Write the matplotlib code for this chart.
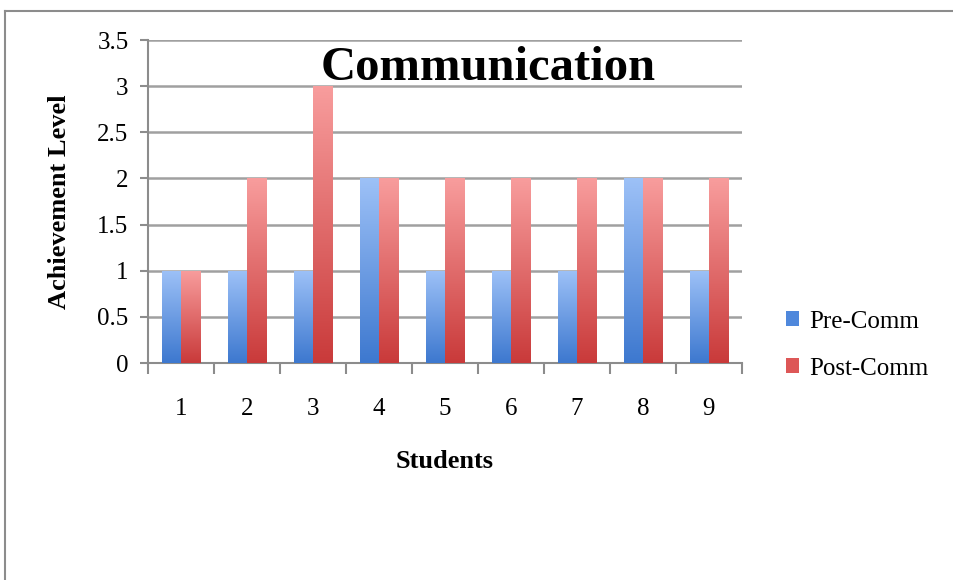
import numpy as np
import matplotlib.pyplot as plt
from matplotlib.lines import Line2D
from matplotlib.colors import LinearSegmentedColormap
from matplotlib.patches import Patch

students = ["1", "2", "3", "4", "5", "6", "7", "8", "9"]
pre_comm = [1, 1, 1, 2, 1, 1, 1, 2, 1]
post_comm = [1, 2, 3, 2, 2, 2, 2, 2, 2]
y_ticks = [0, 0.5, 1, 1.5, 2, 2.5, 3, 3.5]

plt.rcParams['font.family'] = ['Liberation Serif', 'DejaVu Serif']

blue_cmap = LinearSegmentedColormap.from_list("blue", ["#3d78cf", "#9dc1f7"])
red_cmap = LinearSegmentedColormap.from_list("red", ["#c93a3a", "#f89d9d"])


def gradient_fill(ax, bars, cmap):
    # paint each bar with a vertical gradient, clipped to the bar shape
    grad = np.linspace(0, 1, 256).reshape(-1, 1)
    for b in bars:
        x0, y0 = b.get_x(), b.get_y()
        w, h = b.get_width(), b.get_height()
        im = ax.imshow(grad, cmap=cmap, aspect='auto', origin='lower',
                       extent=[x0, x0 + w, y0, y0 + h], zorder=3)
        im.set_clip_path(b)
        b.set_facecolor('none')


fig = plt.figure(figsize=(9.54, 5.8), dpi=100)
ax = fig.add_axes([0.1551, 0.3741, 0.6226, 0.5569])

x = np.arange(len(students))
w = 0.29
bars_pre = ax.bar(x - w / 2, pre_comm, w, color='#6a9be3', zorder=3, linewidth=0)
bars_post = ax.bar(x + w / 2, post_comm, w, color='#e06464', zorder=3, linewidth=0)
gradient_fill(ax, bars_pre, blue_cmap)
gradient_fill(ax, bars_post, red_cmap)

ax.set_xlim(-0.5, len(students) - 0.5)
ax.set_ylim(0, 3.5)
ax.set_yticks(y_ticks)
ax.set_yticklabels([f"{v:g}" for v in y_ticks], fontsize=18)
ax.set_xticks(x)
ax.set_xticklabels(students, fontsize=18)
ax.set_xticks(np.arange(len(students) + 1) - 0.5, minor=True)
ax.tick_params(axis='x', which='major', length=0, pad=25)
ax.tick_params(axis='x', which='minor', length=8, width=1.5, color='#8c8c8c')
ax.tick_params(axis='y', length=6, width=1.5, color='#8c8c8c', pad=8)

ax.grid(axis='y', color='#a0a0a0', linewidth=1.8, zorder=0)
ax.set_axisbelow(True)
for s in ['top', 'right']:
    ax.spines[s].set_visible(False)
for s in ['left', 'bottom']:
    ax.spines[s].set_color('#8c8c8c')
    ax.spines[s].set_linewidth(1.5)

ax.set_ylabel("Achievement Level", fontsize=19, fontweight='bold', labelpad=19)
ax.set_xlabel("Students", fontsize=19, fontweight='bold', labelpad=22)
ax.text(0.573, 0.912, "Communication", transform=ax.transAxes, ha='center',
        va='center', fontsize=35, fontweight='bold')

handles = [Patch(facecolor='#4f88dc', label='Pre-Comm'),
           Patch(facecolor='#dd5757', label='Post-Comm')]
fig.legend(handles=handles, loc='center left', bbox_to_anchor=(0.800, 0.405),
           frameon=False, fontsize=18, handlelength=0.55, handleheight=0.55,
           handletextpad=0.4, labelspacing=1.0)

# outer frame lines along the top and left edges
fig.add_artist(Line2D([5 / 954, 1], [1 - 11 / 580, 1 - 11 / 580],
                      transform=fig.transFigure, color='#8c8c8c', linewidth=1.5))
fig.add_artist(Line2D([5 / 954, 5 / 954], [0, 1 - 11 / 580],
                      transform=fig.transFigure, color='#8c8c8c', linewidth=1.5))

fig.savefig("out.png", dpi=100)
